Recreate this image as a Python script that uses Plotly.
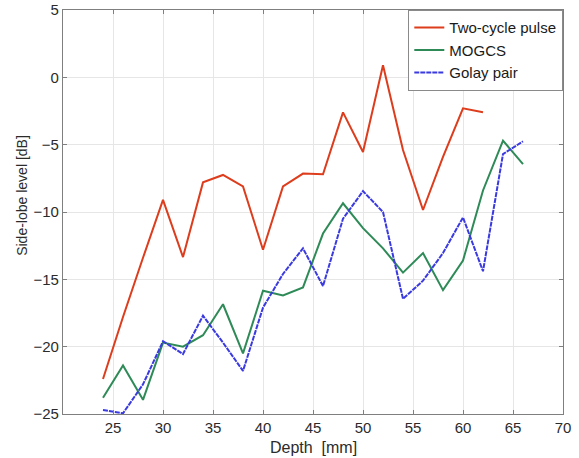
import plotly.graph_objects as go

depth_red = [24, 26, 28, 30, 32, 34, 36, 38, 40, 42, 44, 46, 48, 50, 52, 54, 56, 58, 60, 62]
two_cycle = [-22.4, -17.8, -13.4, -9.1, -13.35, -7.8, -7.25, -8.1, -12.8, -8.1, -7.15, -7.2,
             -2.6, -5.55, 0.9, -5.4, -9.85, -5.9, -2.3, -2.6]

depth = [24, 26, 28, 30, 32, 34, 36, 38, 40, 42, 44, 46, 48, 50, 52, 54, 56, 58, 60, 62, 64, 66]
mogcs = [-23.8, -21.4, -23.95, -19.7, -20.0, -19.15, -16.85, -20.5, -15.85, -16.2, -15.6, -11.6,
         -9.35, -11.2, -12.7, -14.5, -13.05, -15.8, -13.6, -8.4, -4.7, -6.45]
golay = [-24.7, -24.95, -22.8, -19.6, -20.55, -17.7, -19.7, -21.8, -17.1, -14.6, -12.7, -15.5,
         -10.5, -8.45, -10.0, -16.45, -15.1, -13.05, -10.4, -14.4, -5.7, -4.75]

x_ticks = [25, 30, 35, 40, 45, 50, 55, 60, 65, 70]
y_ticks = [-25, -20, -15, -10, -5, 0, 5]

font_family = "Liberation Sans, Arial, sans-serif"
text_color = "#2b2b2b"

fig = go.Figure()
fig.add_trace(go.Scatter(x=depth_red, y=two_cycle, mode="lines", name="Two-cycle pulse",
                         line=dict(color="#dd3d1c", width=2)))
fig.add_trace(go.Scatter(x=depth, y=mogcs, mode="lines", name="MOGCS",
                         line=dict(color="#2e8b57", width=2)))
fig.add_trace(go.Scatter(x=depth, y=golay, mode="lines", name="Golay pair",
                         line=dict(color="#3a3ae0", width=2, dash="5px,1px")))

axis_common = dict(
    showgrid=True, gridcolor="#e6e6e6", gridwidth=1,
    showline=True, linecolor="#7f7f7f", linewidth=1.3, mirror="ticks",
    ticks="inside", ticklen=4, tickcolor="#7f7f7f",
    zeroline=False, automargin=False,
    tickfont=dict(family=font_family, size=15, color=text_color),
)

fig.update_layout(
    width=579, height=458,
    margin=dict(l=63, r=16, t=10, b=44),
    paper_bgcolor="white", plot_bgcolor="white",
    font=dict(family=font_family, color=text_color),
    showlegend=True,
    legend=dict(x=1, y=1, xanchor="right", yanchor="top",
                bordercolor="#8a8a8a", borderwidth=1.3, bgcolor="white",
                font=dict(family=font_family, size=15, color="#1a1a1a"),
                tracegroupgap=0, itemwidth=30),
    xaxis=dict(range=[20, 70], tickvals=x_ticks, **axis_common),
    yaxis=dict(range=[-25, 5], tickvals=y_ticks, **axis_common),
    annotations=[
        dict(text="Depth  [mm]", x=0.5, y=-0.058, xref="paper", yref="paper",
             xanchor="center", yanchor="top", showarrow=False,
             font=dict(family=font_family, size=16, color=text_color)),
        dict(text="Side-lobe level [dB]", x=-0.082, y=0.54, xref="paper", yref="paper",
             xanchor="center", yanchor="middle", showarrow=False, textangle=-90,
             font=dict(family=font_family, size=14, color=text_color)),
    ],
)

fig.write_html("out.html", config={"displayModeBar": False},
               post_script="document.body.style.margin='0';document.body.style.padding='0';")
